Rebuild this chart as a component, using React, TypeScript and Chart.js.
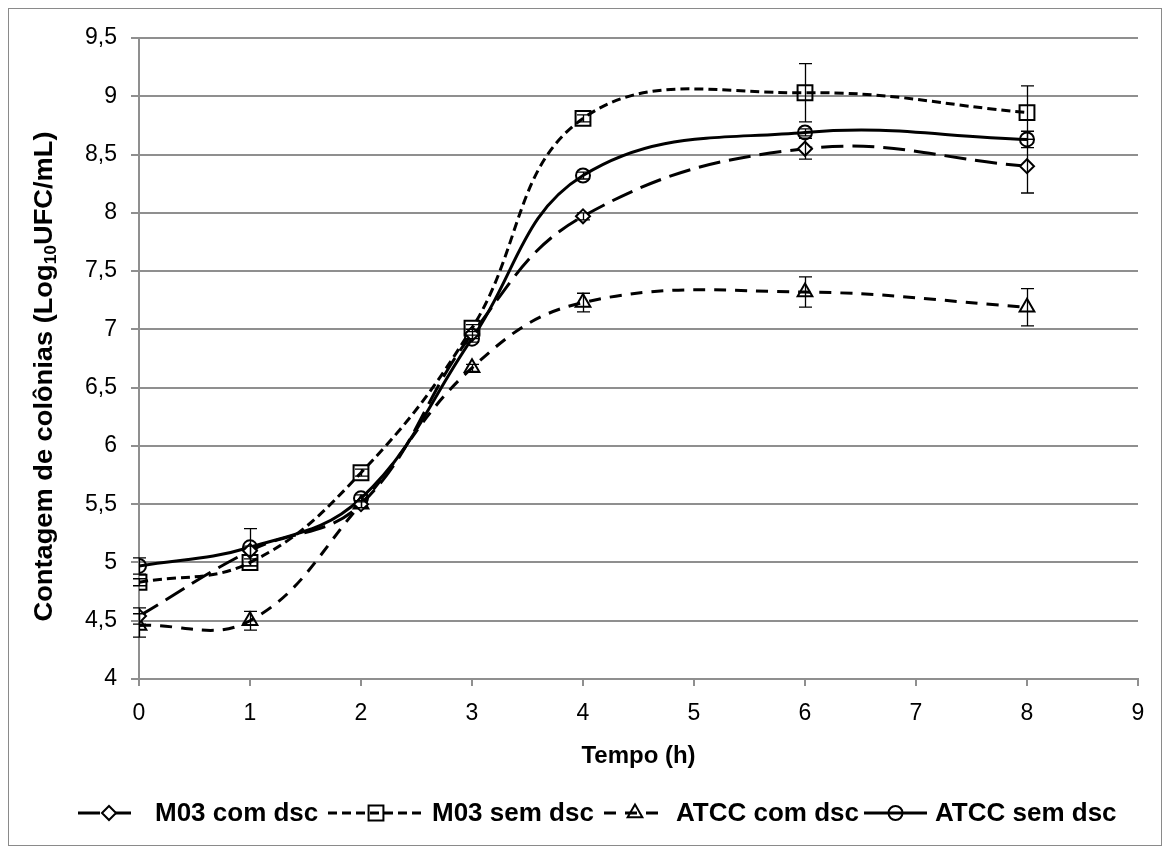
import React, { useEffect, useRef } from 'react';
import { Chart, registerables } from 'chart.js';

Chart.register(...registerables);

const FONT = "'Liberation Sans', Arial, Helvetica, sans-serif";

// Data
const timeHours = [0, 1, 2, 3, 4, 6, 8];
const seriesNames = ['M03 com dsc', 'M03 sem dsc', 'ATCC com dsc', 'ATCC sem dsc'];
const m03ComDsc = [4.54, 5.1, 5.5, 6.96, 7.97, 8.55, 8.4];
const m03ComDscErr = [0.07, 0.04, 0.03, 0.04, 0.03, 0.09, 0.23];
const m03SemDsc = [4.83, 5.0, 5.77, 7.01, 8.81, 9.03, 8.86];
const m03SemDscErr = [0.03, 0.03, 0.03, 0.03, 0.03, 0.25, 0.23];
const atccComDsc = [4.46, 4.5, 5.5, 6.67, 7.23, 7.32, 7.19];
const atccComDscErr = [0.1, 0.08, 0.03, 0.03, 0.08, 0.13, 0.16];
const atccSemDsc = [4.97, 5.13, 5.55, 6.92, 8.32, 8.69, 8.63];
const atccSemDscErr = [0.07, 0.16, 0.03, 0.03, 0.03, 0.03, 0.07];

const xTitle = 'Tempo (h)';
const yTitleParts = ['Contagem de colônias (Log', '10', 'UFC/mL)'];

const seriesValues = [m03ComDsc, m03SemDsc, atccComDsc, atccSemDsc];
const seriesErrors = [m03ComDscErr, m03SemDscErr, atccComDscErr, atccSemDscErr];

const styles = [
  { pointStyle: 'rectRot', radius: 7, dash: [22, 9], fill: '#ffffff' },
  { pointStyle: 'rect', radius: 10.5, dash: [9, 5], fill: 'rgba(0,0,0,0)' },
  { pointStyle: 'triangle', radius: 8.5, dash: [12, 9], fill: 'rgba(0,0,0,0)' },
  { pointStyle: 'circle', radius: 7, dash: [], fill: 'rgba(0,0,0,0)' },
];

// Legend layout (canvas px): sample start, sample end, text start
const legendLayout = [
  [69, 131, 146],
  [319, 415, 423],
  [595, 657, 667],
  [855, 918, 926],
];

const GRID = '#8f8f8f';

function drawMarker(ctx: CanvasRenderingContext2D, style: string, x: number, y: number, r: number, fill: string) {
  ctx.beginPath();
  if (style === 'circle') {
    ctx.arc(x, y, r, 0, Math.PI * 2);
  } else if (style === 'rect') {
    const s = Math.SQRT1_2 * r;
    ctx.rect(x - s, y - s, 2 * s, 2 * s);
  } else if (style === 'rectRot') {
    ctx.moveTo(x - r, y);
    ctx.lineTo(x, y - r);
    ctx.lineTo(x + r, y);
    ctx.lineTo(x, y + r);
    ctx.closePath();
  } else if (style === 'triangle') {
    let a = 0;
    ctx.moveTo(x + Math.sin(a) * r, y - Math.cos(a) * r);
    a += (2 * Math.PI) / 3;
    ctx.lineTo(x + Math.sin(a) * r, y - Math.cos(a) * r);
    a += (2 * Math.PI) / 3;
    ctx.lineTo(x + Math.sin(a) * r, y - Math.cos(a) * r);
    ctx.closePath();
  }
  ctx.fillStyle = fill;
  ctx.fill();
  ctx.setLineDash([]);
  ctx.lineWidth = 2;
  ctx.strokeStyle = '#000';
  ctx.stroke();
}

const errorBarsPlugin = {
  id: 'errorBars',
  afterDatasetsDraw(chart: any) {
    const ctx = chart.ctx as CanvasRenderingContext2D;
    const xs = chart.scales.x;
    const ys = chart.scales.y;
    ctx.save();
    ctx.strokeStyle = '#000';
    ctx.lineWidth = 1.3;
    ctx.setLineDash([]);
    seriesValues.forEach((vals, i) => {
      const errs = seriesErrors[i];
      vals.forEach((v, j) => {
        const x = Math.round(xs.getPixelForValue(timeHours[j])) + 0.5;
        const yt = ys.getPixelForValue(v + errs[j]);
        const yb = ys.getPixelForValue(v - errs[j]);
        ctx.beginPath();
        ctx.moveTo(x, yt);
        ctx.lineTo(x, yb);
        ctx.moveTo(x - 6.5, yt);
        ctx.lineTo(x + 6.5, yt);
        ctx.moveTo(x - 6.5, yb);
        ctx.lineTo(x + 6.5, yb);
        ctx.stroke();
      });
    });
    ctx.restore();
  },
};

const decorPlugin = {
  id: 'decor',
  afterDraw(chart: any) {
    const ctx = chart.ctx as CanvasRenderingContext2D;
    const area = chart.chartArea;
    ctx.save();
    // Y axis title with subscript
    ctx.translate(36, (area.top + area.bottom) / 2 + 18);
    ctx.rotate(-Math.PI / 2);
    ctx.fillStyle = '#000';
    ctx.textBaseline = 'middle';
    ctx.textAlign = 'left';
    const big = `bold 25px ${FONT}`;
    const small = `bold 16px ${FONT}`;
    ctx.font = big;
    const w1 = ctx.measureText(yTitleParts[0]).width;
    const w3 = ctx.measureText(yTitleParts[2]).width;
    ctx.font = small;
    const w2 = ctx.measureText(yTitleParts[1]).width;
    const total = w1 + w2 + w3;
    const stretch = 490 / total;
    ctx.scale(stretch, 1);
    const sx = -total / 2;
    ctx.font = big;
    ctx.fillText(yTitleParts[0], sx, 0);
    ctx.font = small;
    ctx.fillText(yTitleParts[1], sx + w1, 7);
    ctx.font = big;
    ctx.fillText(yTitleParts[2], sx + w1 + w2, 0);
    ctx.restore();

    // Legend
    ctx.save();
    const ly = 804;
    ctx.font = `bold 26px ${FONT}`;
    ctx.textBaseline = 'middle';
    ctx.textAlign = 'left';
    seriesNames.forEach((name, i) => {
      const st = styles[i];
      const [s0, s1, tx] = legendLayout[i];
      ctx.beginPath();
      ctx.setLineDash(st.dash);
      ctx.lineWidth = 3;
      ctx.strokeStyle = '#000';
      ctx.moveTo(s0, ly);
      ctx.lineTo(s1, ly);
      ctx.stroke();
      drawMarker(ctx, st.pointStyle, (s0 + s1) / 2, ly, st.radius, st.fill);
      ctx.fillStyle = '#000';
      ctx.fillText(name, tx, ly + 1);
    });
    ctx.restore();
  },
};

export default function App() {
  const canvasRef = useRef<HTMLCanvasElement | null>(null);

  useEffect(() => {
    if (!canvasRef.current) return;
    const datasets = seriesNames.map((name, i) => ({
      label: name,
      data: timeHours.map((t, j) => ({ x: t, y: seriesValues[i][j] })),
      borderColor: '#000',
      backgroundColor: styles[i].fill,
      borderWidth: 3,
      borderDash: styles[i].dash,
      tension: 0.4,
      pointStyle: styles[i].pointStyle as any,
      pointRadius: styles[i].radius,
      pointBorderWidth: 2,
      pointBorderColor: '#000',
      pointBackgroundColor: styles[i].fill,
      fill: false,
    }));

    const chart = new Chart(canvasRef.current, {
      type: 'line',
      data: { datasets },
      options: {
        animation: false,
        responsive: true,
        maintainAspectRatio: false,
        events: [],
        layout: { padding: { top: 29, right: 23, left: 0, bottom: 0 } },
        plugins: {
          legend: { display: false },
          tooltip: { enabled: false },
          title: { display: false },
        },
        scales: {
          x: {
            type: 'linear',
            min: 0,
            max: 9,
            ticks: { stepSize: 1, color: '#000', font: { family: FONT, size: 23 }, padding: 14 },
            grid: { drawOnChartArea: false, drawTicks: true, tickLength: 7, color: GRID, lineWidth: 2 },
            border: { display: true, color: GRID, width: 2 },
            title: {
              display: true,
              text: xTitle,
              color: '#000',
              font: { family: FONT, size: 24, weight: 'bold' },
              padding: { top: 0, bottom: 74 },
            },
            afterFit: (s: any) => {
              s.height = 166;
            },
          },
          y: {
            type: 'linear',
            min: 4,
            max: 9.5,
            ticks: {
              stepSize: 0.5,
              color: '#000',
              font: { family: FONT, size: 23 },
              padding: 14,
              callback: (v: any) => String(v).replace('.', ','),
            },
            grid: { color: GRID, lineWidth: 2, drawTicks: true, tickLength: 8 },
            border: { display: true, color: GRID, width: 2 },
            afterFit: (s: any) => {
              s.width = 130;
            },
          },
        },
      },
      plugins: [errorBarsPlugin, decorPlugin],
    } as any);

    return () => chart.destroy();
  }, []);

  return (
    <div
      style={{
        position: 'relative',
        width: 1154,
        height: 838,
        border: '1px solid #8a8a8a',
        boxSizing: 'border-box',
        background: '#fff',
      }}
    >
      <canvas ref={canvasRef} />
    </div>
  );
}
